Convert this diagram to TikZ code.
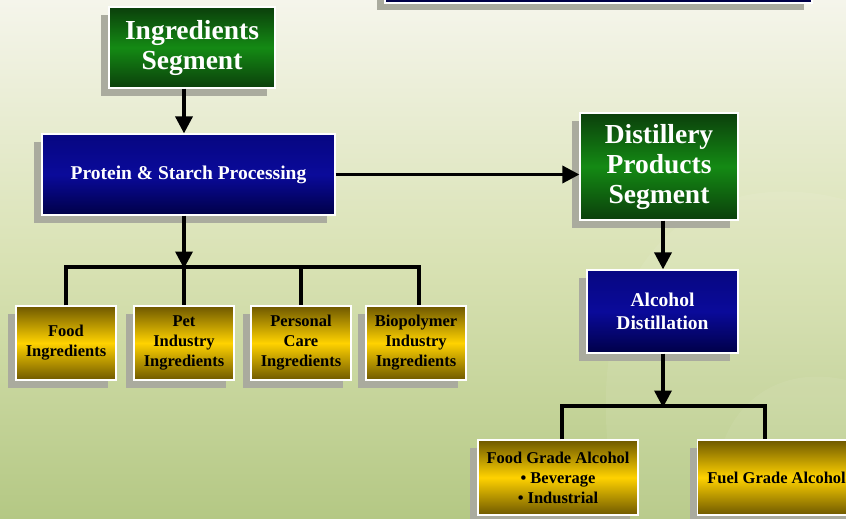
\documentclass[tikz,border=0pt]{standalone}
\usepackage{fontspec}
\setmainfont{Liberation Serif}
\usetikzlibrary{arrows.meta,shadows}
\definecolor{bgtop}{HTML}{F5F5EB}
\definecolor{bgmid}{HTML}{D9E2B4}
\definecolor{bgbot}{HTML}{B4C884}
\definecolor{grdark}{HTML}{0B3F0B}
\definecolor{grmid}{HTML}{148A14}
\definecolor{bldark}{HTML}{000048}
\definecolor{blmid}{HTML}{0A0A9A}
\definecolor{yedark}{HTML}{6E5800}
\definecolor{yemid}{HTML}{FFD200}
\definecolor{shadowgray}{HTML}{AAAB9E}
\tikzset{
  boxbase/.style={draw=white, line width=1.2pt, align=center, inner sep=1pt,
    general shadow={shadow xshift=-8pt, shadow yshift=-8pt, fill=shadowgray, draw=none}},
  greenbox/.style={boxbase, top color=grdark, bottom color=grdark, middle color=grmid,
    text=white, font=\bfseries\fontsize{27.5}{30}\selectfont},
  bluebox/.style={boxbase, top color=blmid!70!bldark, bottom color=bldark, middle color=blmid,
    text=white},
  yellowbox/.style={boxbase, top color=yedark, bottom color=yedark, middle color=yemid,
    text=black, font=\bfseries\fontsize{16.5}{20}\selectfont},
  conn/.style={line width=3.5pt, black},
  arr/.style={conn, -{Triangle[length=17pt,width=17pt]}},
}
\begin{document}
\begin{tikzpicture}[x=1pt,y=-1pt]
  \useasboundingbox (0,0) rectangle (846,519);
  \shade[top color=bgtop, bottom color=bgbot, middle color=bgmid] (0,0) rectangle (846,519);
  % faint swoosh shapes
  \fill[white, opacity=0.07] (846,200) .. controls (700,160) and (560,260) .. (620,519) -- (846,519) -- cycle;
  \fill[white, opacity=0.06] (846,380) .. controls (760,360) and (700,430) .. (720,519) -- (846,519) -- cycle;
  % partial box at top right
  \fill[shadowgray] (377,-20) rectangle (804,10);
  \draw[white, line width=1.2pt, fill=bldark] (385,-20) rectangle (812,3);
  \begin{scope}
  \clip (0,0) rectangle (846,519);
  \node[greenbox, minimum width=166pt, minimum height=81pt] (ing) at (192,47.5) {Ingredients\\Segment};
  \node[bluebox, minimum width=293pt, minimum height=81pt, font=\bfseries\fontsize{19.5}{22}\selectfont] (prot) at (188.5,174.5) {Protein \& Starch Processing};
  \node[greenbox, minimum width=158pt, minimum height=107pt] (dist) at (659,166.5) {Distillery\\Products\\Segment};
  \node[bluebox, minimum width=151pt, minimum height=83pt, font=\bfseries\fontsize{19.5}{23}\selectfont] (alc) at (662.5,311.5) {Alcohol\\Distillation};
  \node[yellowbox, minimum width=100pt, minimum height=74pt] (food) at (66,343) {Food\\Ingredients};
  \node[yellowbox, minimum width=100pt, minimum height=74pt] (pet) at (184,343) {Pet\\Industry\\Ingredients};
  \node[yellowbox, minimum width=100pt, minimum height=74pt] (pers) at (301,343) {Personal\\Care\\Ingredients};
  \node[yellowbox, minimum width=100pt, minimum height=74pt] (bio) at (416,343) {Biopolymer\\Industry\\Ingredients};
  \node[yellowbox, minimum width=160pt, minimum height=75pt, font=\bfseries\fontsize{16.5}{20}\selectfont] (fga) at (558,477.5) {Food Grade Alcohol\\\textbullet\ Beverage\\\textbullet\ Industrial};
  \node[yellowbox, minimum width=160pt, minimum height=75pt, font=\bfseries\fontsize{16.5}{20}\selectfont, anchor=west] (fuel) at (697,477.5) {\hspace*{-2pt}Fuel Grade Alcohol};
  \end{scope}
  % connectors
  \coordinate (bar1) at (184,267);
  \coordinate (bar1l) at (66,267);
  \coordinate (bar1r) at (419,267);
  \coordinate (bar2) at (663,406);
  \coordinate (bar2l) at (562,406);
  \coordinate (bar2r) at (765,406);
  \draw[arr] (ing.south -| 184,0) -- (prot.north -| 184,0);
  \draw[arr] (prot.east) -- (dist.west |- prot.east);
  \draw[arr] (prot.south -| bar1) -- ([yshift=-1.5pt]bar1);
  \draw[conn] (food.north -| bar1l) -- (bar1l) -- (bar1r) -- (bio.north -| bar1r);
  \draw[conn] (bar1) -- (pet.north -| bar1);
  \draw[conn] (301,267) -- (pers.north -| 301,0);
  \draw[arr] (dist.south -| 663,0) -- (alc.north -| 663,0);
  \draw[arr] (alc.south -| bar2) -- ([yshift=-1.5pt]bar2);
  \draw[conn] (fga.north -| bar2l) -- (bar2l) -- (bar2r) -- (fuel.north -| bar2r);
\end{tikzpicture}
\end{document}
